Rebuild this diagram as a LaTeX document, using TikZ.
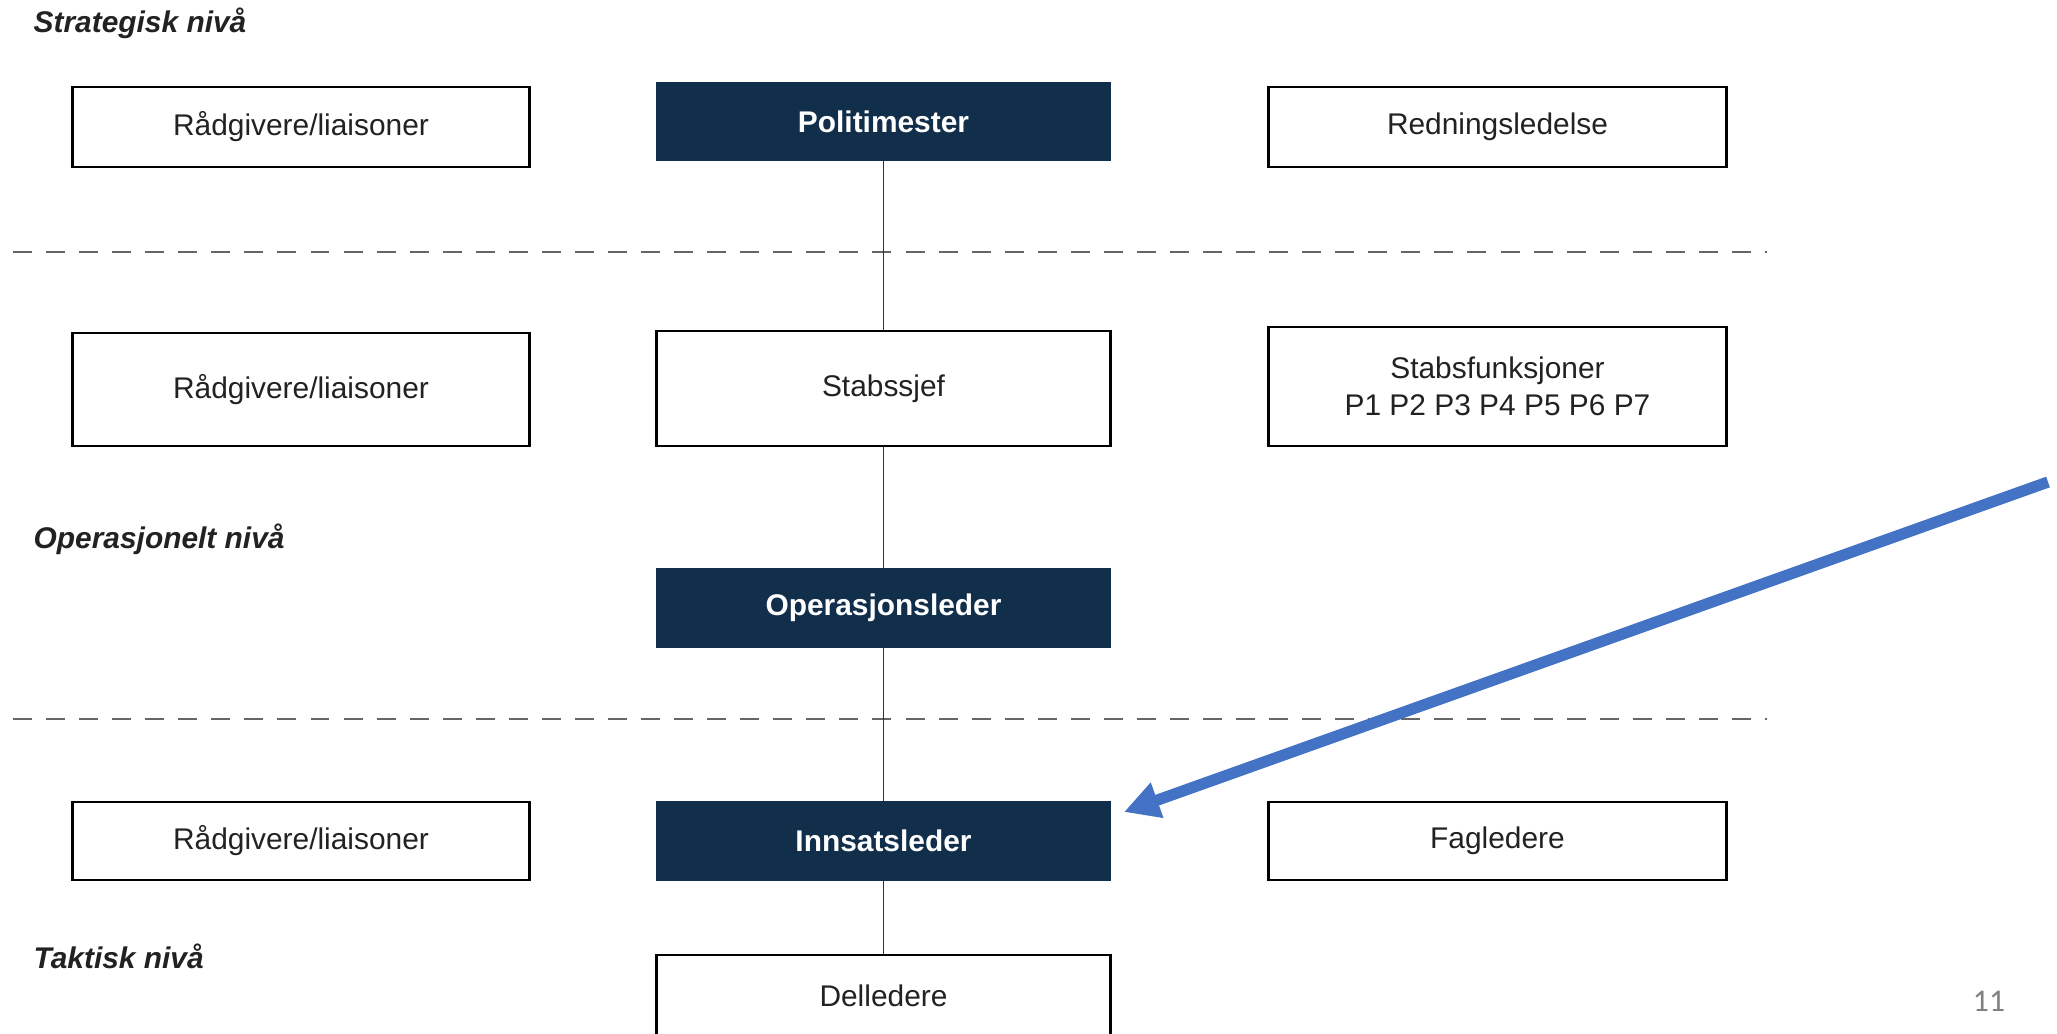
\documentclass[tikz,border=0pt]{standalone}
\usepackage{fontspec}
\setmainfont{Liberation Sans}
\newfontfamily\pagenumfont{Carlito}
\usetikzlibrary{arrows.meta}
\definecolor{navy}{HTML}{112E4B}
\definecolor{boxtext}{HTML}{222222}
\definecolor{dashgray}{HTML}{666666}
\definecolor{pointer}{HTML}{4472C4}
\begin{document}
\begin{tikzpicture}[x=0.01cm,y=-0.01cm,
  plainbox/.style={draw=black,line width=0.8pt,fill=white,text=boxtext,
    minimum width=4.57cm,minimum height=0.8cm,inner sep=0pt,align=center,
    font=\fontsize{8.5}{10.5}\selectfont},
  darkbox/.style={draw=navy,fill=navy,text=white,
    minimum width=4.54cm,minimum height=0.78cm,inner sep=0pt,
    font=\fontsize{8.5}{10.5}\selectfont\bfseries},
  levellabel/.style={anchor=west,inner sep=0pt,text=boxtext,
    font=\fontsize{8.5}{10.5}\selectfont\bfseries\itshape},
  levelline/.style={draw=dashgray,line width=0.7pt,dash pattern=on 5.4pt off 4pt},
  chain/.style={draw=black!80,line width=0.5pt}]
\useasboundingbox (0,0) rectangle (2057,1033);
\clip (0,0) rectangle (2057,1033);
\fill[white] (0,0) rectangle (2057,1033);

% level separators
\draw[levelline] (13,252) -- (1767,252);
\draw[levelline] (13,719) -- (1767,719);

% level labels
\node[levellabel] (lstrat) at (33,23) {Strategisk nivå};
\node[levellabel] (lop) at (33,539) {Operasjonelt nivå};
\node[levellabel] (ltak) at (33,956) {Taktisk nivå};

% strategic row
\node[plainbox] (raad1) at (301,127) {Rådgivere/liaisoner};
\node[darkbox] (politi) at (883.5,121.5) {Politimester};
\node[plainbox] (redning) at (1497.5,127) {Redningsledelse};

% staff row
\node[plainbox,minimum height=1.13cm] (raad2) at (301,389.5) {Rådgivere/liaisoner};
\node[plainbox,minimum width=4.54cm,minimum height=1.15cm] (stabssjef) at (883.5,388.5) {Stabssjef};
\node[plainbox,minimum height=1.19cm] (stabsf) at (1497.5,386.5) {Stabsfunksjoner\\P1 P2 P3 P4 P5 P6 P7};

% operational
\node[darkbox] (opleder) at (883.5,608) {Operasjonsleder};

% tactical row
\node[plainbox,minimum height=0.78cm] (raad3) at (301,841) {Rådgivere/liaisoner};
\node[darkbox] (innsats) at (883.5,841) {Innsatsleder};
\node[plainbox,minimum height=0.78cm] (fag) at (1497.5,841) {Fagledere};

\node[plainbox,minimum width=4.54cm,minimum height=1.0cm] (del) at (883.5,1005) {};
\node[text=boxtext,font=\fontsize{8.5}{10.5}\selectfont] (deltxt) at (883.5,996) {Delledere};

% chain of command
\draw[chain] (politi.south) -- (stabssjef.north);
\draw[chain] (stabssjef.south) -- (opleder.north);
\draw[chain] (opleder.south) -- (innsats.north);
\draw[chain] (innsats.south) -- (del.north);

% pointer
\coordinate (ptail) at (2048,482);
\coordinate (ptip) at (1124,812);
\draw[pointer,line width=3.2pt,-{Triangle[length=10pt,width=10pt]}] (ptail) -- (ptip);

% page number
\node[text=black!50,font=\pagenumfont\fontsize{9}{11}\selectfont] (pnum) at (1989,1001) {11};
\end{tikzpicture}
\end{document}
